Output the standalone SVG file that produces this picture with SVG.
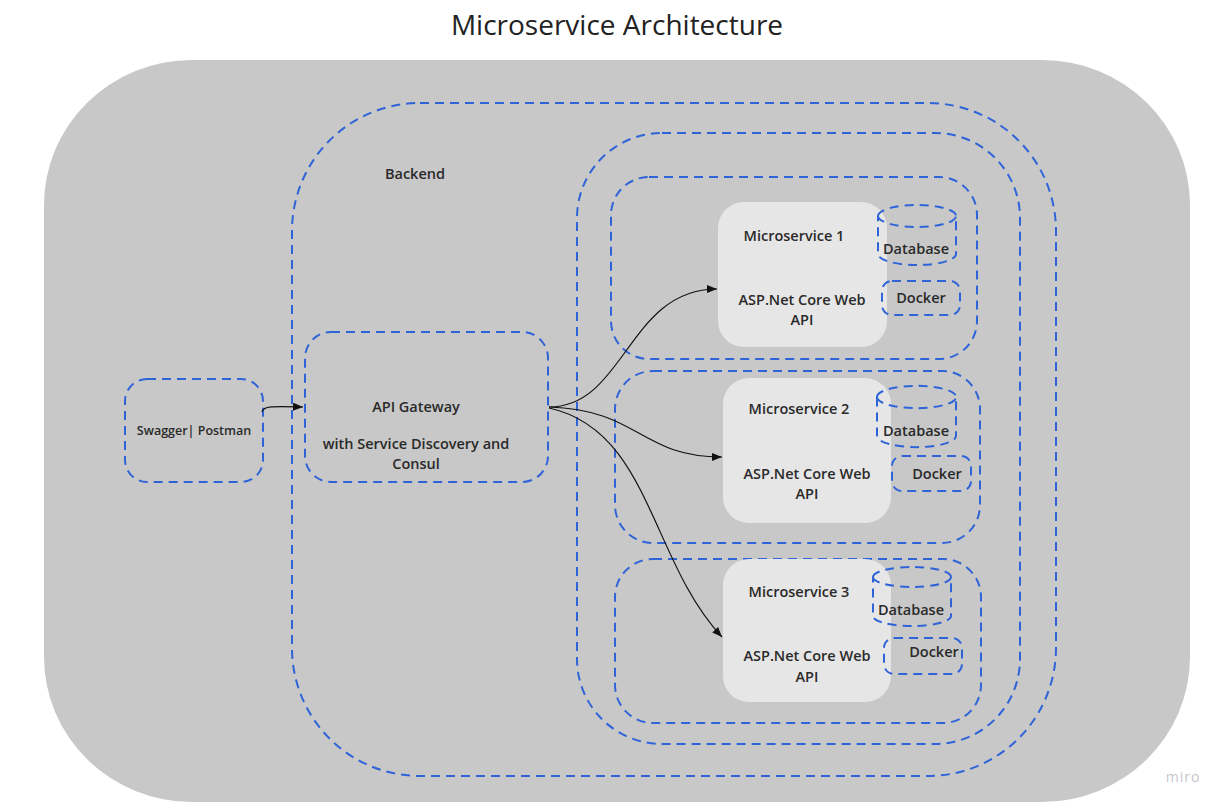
<svg xmlns="http://www.w3.org/2000/svg" width="1230" height="812" viewBox="0 0 1230 812">
<style>
.dash{fill:none;stroke:#2f64d8;stroke-width:2;stroke-dasharray:9 6}
.box{fill:#e6e6e6;stroke:none}
.lbl{font-family:"Open Sans","Noto Sans","Liberation Sans",sans-serif;font-weight:600;font-size:14.5px;fill:#2a2a2a;text-anchor:middle}
.sm{font-size:12.5px}
.conn{fill:none;stroke:#111;stroke-width:1.2}
</style>
<defs>
<marker id="arr" viewBox="0 0 10 8" refX="10" refY="4" markerWidth="10" markerHeight="8" markerUnits="userSpaceOnUse" orient="auto">
<path d="M0,0 L10,4 L0,8 z" fill="#111"/>
</marker>
</defs>
<rect x="0" y="0" width="1230" height="812" fill="#ffffff"/>
<text x="617" y="35" style="font-family:'Open Sans','Noto Sans','Liberation Sans',sans-serif;font-size:28px;fill:#222;text-anchor:middle">Microservice Architecture</text>

<g id="outer">
<rect x="44" y="60" width="1146" height="742" rx="148" ry="145" fill="#c8c8c8"/>
</g>
<g id="backend">
<rect class="dash" x="292" y="103" width="764" height="673" rx="128" ry="128"/>
<text class="lbl" x="415" y="179">Backend</text>
</g>
<g id="services-container">
<rect class="dash" x="577" y="133" width="443" height="611" rx="85" ry="85"/>
</g>
<g id="ms1-container">
<rect class="dash" x="611" y="177" width="366" height="182" rx="38" ry="38"/>
</g>
<g id="ms2-container">
<rect class="dash" x="615" y="371" width="365" height="172" rx="38" ry="38"/>
</g>
<g id="ms3-container">
<rect class="dash" x="615" y="559" width="366" height="164" rx="38" ry="38"/>
</g>

<g id="swagger">
<rect class="dash" x="125" y="379" width="138" height="103" rx="22" ry="22"/>
<text class="lbl sm" x="194" y="435">Swagger| Postman</text>
</g>
<g id="gateway">
<rect class="dash" x="305" y="332" width="243" height="150" rx="26" ry="26"/>
<text class="lbl" x="416" y="412">API Gateway</text>
<text class="lbl" x="416" y="449">with Service Discovery and</text>
<text class="lbl" x="416" y="469">Consul</text>
</g>

<g id="ms1">
<rect class="box" x="718" y="202" width="169" height="145" rx="26" ry="26"/>
<text class="lbl" x="794" y="241">Microservice 1</text>
<text class="lbl" x="802" y="305">ASP.Net Core Web</text>
<text class="lbl" x="802" y="325">API</text>
</g>
<g id="db1">
<path class="dash" d="M878,216 A39,11 0 0 1 956,216 L956,254 A39,11 0 0 1 878,254 Z M878,216 A39,11 0 0 0 956,216"/>
<text class="lbl" x="916" y="254">Database</text>
</g>
<g id="docker1">
<rect class="dash" x="882" y="281" width="78" height="34" rx="10" ry="10"/>
<text class="lbl" x="921" y="303">Docker</text>
</g>

<g id="ms2">
<rect class="box" x="723" y="378" width="168" height="145" rx="26" ry="26"/>
<text class="lbl" x="799" y="414">Microservice 2</text>
<text class="lbl" x="807" y="479">ASP.Net Core Web</text>
<text class="lbl" x="807" y="499">API</text>
</g>
<g id="db2">
<path class="dash" d="M877,397 A39,11 0 0 1 956,397 L956,436 A39,11 0 0 1 877,436 Z M877,397 A39,11 0 0 0 956,397"/>
<text class="lbl" x="916" y="436">Database</text>
</g>
<g id="docker2">
<rect class="dash" x="892" y="456" width="79" height="35" rx="10" ry="10"/>
<text class="lbl" x="937" y="479">Docker</text>
</g>

<g id="ms3">
<rect class="box" x="723" y="559" width="168" height="143" rx="26" ry="26"/>
<text class="lbl" x="799" y="597">Microservice 3</text>
<text class="lbl" x="807" y="661">ASP.Net Core Web</text>
<text class="lbl" x="807" y="682">API</text>
</g>
<g id="db3">
<path class="dash" d="M873,577 A39,10 0 0 1 951,577 L951,616 A39,10 0 0 1 873,616 Z M873,577 A39,10 0 0 0 951,577"/>
<text class="lbl" x="911" y="615">Database</text>
</g>
<g id="docker3">
<rect class="dash" x="884" y="638" width="78" height="36" rx="10" ry="10"/>
<text class="lbl" x="934" y="657">Docker</text>
</g>

<g id="connectors">
<path class="conn" marker-end="url(#arr)" d="M262,412 C263,406 272,406 303,407"/>
<path class="conn" marker-end="url(#arr)" d="M549,407 C625,407 628,289 717,289"/>
<path class="conn" marker-end="url(#arr)" d="M549,407 C640,410 640,457 722,457"/>
<path class="conn" marker-end="url(#arr)" d="M549,408 C650,430 650,560 722,637"/>
</g>

<text x="1183" y="782" style="font-family:'Open Sans','Noto Sans','Liberation Sans',sans-serif;font-size:14px;fill:#c6c6cc;text-anchor:middle;letter-spacing:1px">miro</text>
</svg>
